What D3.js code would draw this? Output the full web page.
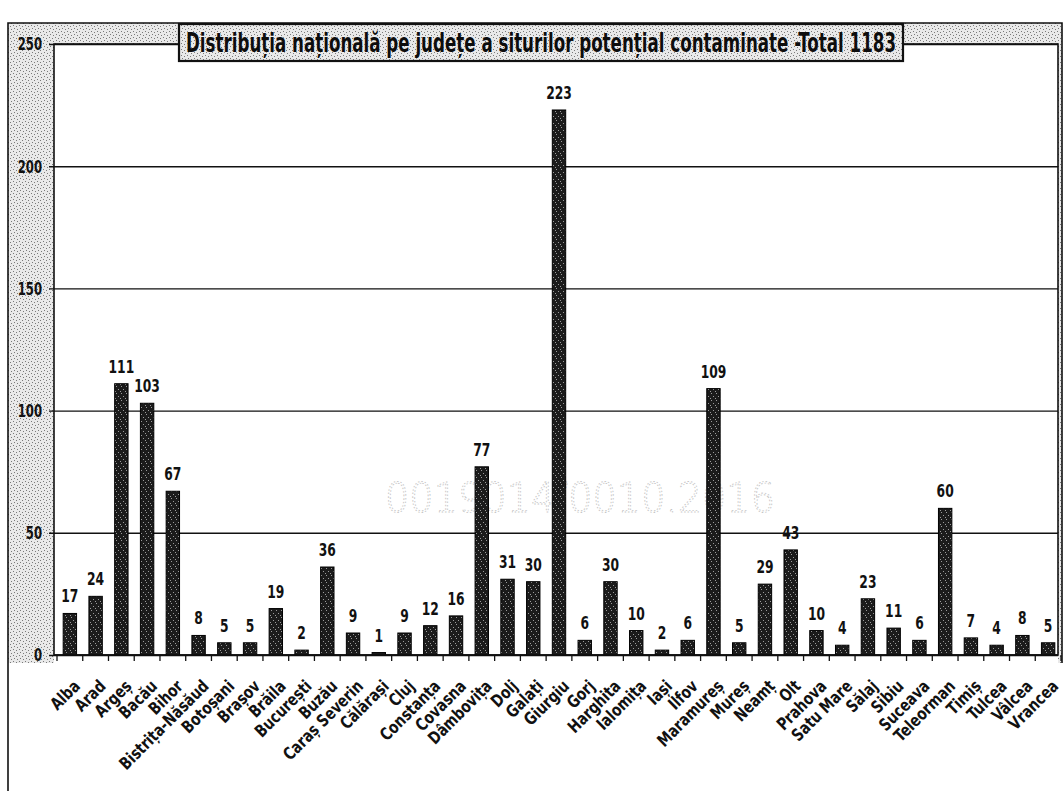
<!DOCTYPE html>
<html>
<head>
<meta charset="utf-8">
<script src="https://cdn.jsdelivr.net/npm/d3@7"></script>
<style>
  html, body { margin: 0; padding: 0; background: #fff; }
  svg { display: block; }
  text { font-family: "DejaVu Sans Condensed", "Liberation Sans Narrow", sans-serif; }
</style>
</head>
<body>
<svg id="chart" width="1064" height="791"></svg>
<script>
// ---- data ----
const categories = ["Alba","Arad","Argeș","Bacău","Bihor","Bistrița-Năsăud","Botoșani","Brașov","Brăila","București",
  "Buzău","Caraș Severin","Călărași","Cluj","Constanța","Covasna","Dâmbovița","Dolj","Galați","Giurgiu",
  "Gorj","Harghita","Ialomița","Iași","Ilfov","Maramureș","Mureș","Neamț","Olt","Prahova",
  "Satu Mare","Sălaj","Sibiu","Suceava","Teleorman","Timiș","Tulcea","Vâlcea","Vrancea"];
const values = [17,24,111,103,67,8,5,5,19,2,
  36,9,1,9,12,16,77,31,30,223,
  6,30,10,2,6,109,5,29,43,10,
  4,23,11,6,60,7,4,8,5];
const yTicks = [0,50,100,150,200,250];
const titleText = "Distribuția națională pe județe a siturilor potențial contaminate -Total 1183";
const stampText = "0019014/0010.2016";

// ---- layout ----
const svg = d3.select("#chart");
const W = 1064, H = 791;
const plot = {left: 54, right: 1058, top: 44, bottom: 655};
const FONT = "'DejaVu Sans Condensed','Liberation Sans Narrow',sans-serif";

const defs = svg.append("defs");
const gp = defs.append("pattern").attr("id","stipple").attr("patternUnits","userSpaceOnUse")
  .attr("width",6).attr("height",6);
gp.append("rect").attr("width",6).attr("height",6).attr("fill","#e9e9e9");
[[1,1],[4,2],[2,4],[5,5]].forEach(p => gp.append("rect").attr("x",p[0]).attr("y",p[1])
  .attr("width",1).attr("height",1).attr("fill","#7a7a7a"));

const bp = defs.append("pattern").attr("id","barfill").attr("patternUnits","userSpaceOnUse")
  .attr("width",5).attr("height",7);
bp.append("rect").attr("width",5).attr("height",7).attr("fill","#1b1b1b");
[[1,1],[3,4],[0,6]].forEach(p => bp.append("rect").attr("x",p[0]).attr("y",p[1])
  .attr("width",1).attr("height",1).attr("fill","#9a9a9a"));

svg.append("rect").attr("width",W).attr("height",H).attr("fill","#fff");

// gray frame bands
svg.append("rect").attr("x",8).attr("y",23).attr("width",1054).attr("height",plot.top-23).attr("fill","url(#stipple)");
svg.append("rect").attr("x",8).attr("y",23).attr("width",plot.left-8).attr("height",640).attr("fill","url(#stipple)");
svg.append("rect").attr("x",plot.right).attr("y",23).attr("width",1062-plot.right).attr("height",640).attr("fill","url(#stipple)");
// outer border
svg.append("path").attr("d",`M8,791 L8,23 L1062,23 L1062,663`).attr("fill","none").attr("stroke","#111").attr("stroke-width",1.6);

// plot area
svg.append("rect").attr("x",plot.left).attr("y",plot.top).attr("width",plot.right-plot.left)
  .attr("height",plot.bottom-plot.top).attr("fill","#fff");

// scales
const x = d3.scaleBand().domain(categories).range([plot.left+3, plot.right+3]).paddingInner(0.48).paddingOuter(0.24);
const y = d3.scaleLinear().domain([0,250]).range([plot.bottom, plot.top]);

// stamp (faint)
svg.append("text").attr("x",385).attr("y",512).attr("textLength",390).attr("lengthAdjust","spacingAndGlyphs")
  .attr("font-size",40).attr("fill","none").attr("stroke","#c4c4c4").attr("stroke-width",0.9)
  .attr("stroke-dasharray","1.5 2").style("font-family","'DejaVu Sans', sans-serif").style("font-weight","300").text(stampText);

// gridlines
const yAxis = d3.axisLeft(y).tickValues(yTicks).tickSize(-(plot.right-plot.left)).tickFormat("");
const gy = svg.append("g").attr("transform",`translate(${plot.left},0)`).call(yAxis);
gy.select(".domain").remove();
gy.selectAll(".tick line").attr("stroke","#111").attr("stroke-width",1.4).attr("x1",-5);

// y labels
svg.append("g").selectAll("text").data(yTicks).join("text")
  .attr("transform",d=>`translate(42,${y(d)}) scale(0.72,1)`)
  .attr("dy","0.36em").attr("text-anchor","end")
  .attr("font-size",18).attr("font-weight","bold").attr("fill","#111")
  .style("font-family",FONT).text(d=>d);

// plot border
svg.append("rect").attr("x",plot.left).attr("y",plot.top).attr("width",plot.right-plot.left)
  .attr("height",plot.bottom-plot.top).attr("fill","none").attr("stroke","#111").attr("stroke-width",1.6);

// bars
svg.append("g").selectAll("rect").data(values).join("rect")
  .attr("x",(d,i)=>x(categories[i]))
  .attr("y",d=>y(d))
  .attr("width",x.bandwidth())
  .attr("height",d=>y(0)-y(d))
  .attr("fill","url(#barfill)").attr("stroke","#000").attr("stroke-width",1);

// value labels
svg.append("g").selectAll("text").data(values).join("text")
  .attr("transform",(d,i)=>`translate(${x(categories[i])+x.bandwidth()/2},${y(d)-11}) scale(0.76,1)`)
  .attr("text-anchor","middle").attr("font-size",18).attr("font-weight","bold").attr("fill","#111")
  .style("font-family",FONT)
  .text(d=>d);

// x axis
const xAxis = d3.axisBottom(x).tickSize(0).tickSizeOuter(0);
const gx = svg.append("g").attr("transform",`translate(0,${y(0)})`).call(xAxis);
gx.select(".domain").attr("stroke","#111").attr("stroke-width",1.6)
  .attr("d",`M${plot.left},0H${plot.right}`);
gx.selectAll(".tick text")
  .attr("x",0).attr("y",0).attr("dy","0.35em")
  .attr("transform","translate(7,28) rotate(-45) scale(0.88,1)")
  .style("text-anchor","end")
  .attr("font-size",17).attr("font-weight","bold").attr("fill","#111")
  .style("font-family",FONT);

// tick marks at band boundaries
const bounds = categories.map(c => x(c) - x.step()*x.paddingOuter()).concat([x(categories[categories.length-1]) + x.bandwidth() + x.step()*x.paddingOuter()]);
svg.append("g").selectAll("line").data(bounds).join("line")
  .attr("x1",d=>d).attr("x2",d=>d).attr("y1",y(0)).attr("y2",y(0)+6)
  .attr("stroke","#111").attr("stroke-width",1.3);

// title box
svg.append("rect").attr("x",179).attr("y",24).attr("width",724).attr("height",37)
  .attr("fill","url(#stipple)").attr("stroke","#111").attr("stroke-width",2.2);
svg.append("text").attr("x",186).attr("y",52).attr("textLength",710).attr("lengthAdjust","spacingAndGlyphs")
  .attr("font-size",26).attr("font-weight","bold").attr("fill","#0d0d0d")
  .attr("stroke","#fff").attr("stroke-width",0.6).attr("paint-order","stroke")
  .style("font-family",FONT)
  .text(titleText);
</script>
</body>
</html>
